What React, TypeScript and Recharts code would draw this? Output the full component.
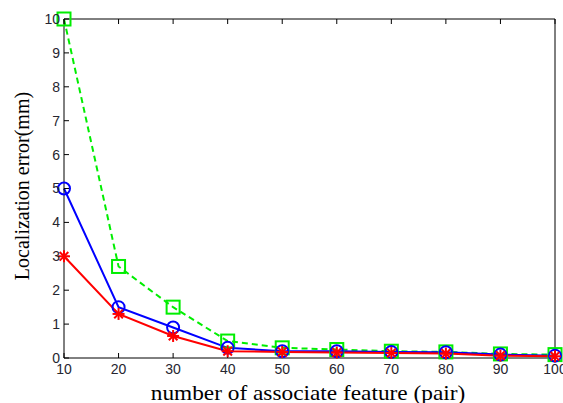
import { LineChart, Line, XAxis, YAxis } from 'recharts'

const features = [10, 20, 30, 40, 50, 60, 70, 80, 90, 100]
const greenErr = [10, 2.7, 1.5, 0.5, 0.3, 0.25, 0.2, 0.18, 0.12, 0.1]
const blueErr = [5, 1.5, 0.9, 0.3, 0.2, 0.2, 0.18, 0.17, 0.1, 0.07]
const redErr = [3, 1.3, 0.65, 0.2, 0.18, 0.16, 0.15, 0.13, 0.07, 0.05]
const xTicks = [10, 20, 30, 40, 50, 60, 70, 80, 90, 100]
const yTicks = [0, 1, 2, 3, 4, 5, 6, 7, 8, 9, 10]

const data = features.map((f, i) => ({ f, g: greenErr[i], b: blueErr[i], r: redErr[i] }))

const tickStyle = { fill: '#262630', fontSize: 14, fontFamily: 'Liberation Sans, Arial, sans-serif' }
const serif = '"Liberation Serif", "Times New Roman", serif'
const blank = () => ''

function SquareDot({ cx, cy }: any) {
  if (cx == null || cy == null) return null
  return <rect x={cx - 6.5} y={cy - 6.5} width={13} height={13} fill="none" stroke="#00ee00" strokeWidth={2} />
}

function CircleDot({ cx, cy }: any) {
  if (cx == null || cy == null) return null
  return <circle cx={cx} cy={cy} r={6} fill="none" stroke="#0000ff" strokeWidth={2} />
}

function StarDot({ cx, cy }: any) {
  if (cx == null || cy == null) return null
  const s = 6
  const d = s * 0.72
  return (
    <g stroke="#ff0000" strokeWidth={2}>
      <line x1={cx - s} y1={cy} x2={cx + s} y2={cy} />
      <line x1={cx} y1={cy - s} x2={cx} y2={cy + s} />
      <line x1={cx - d} y1={cy - d} x2={cx + d} y2={cy + d} />
      <line x1={cx - d} y1={cy + d} x2={cx + d} y2={cy - d} />
    </g>
  )
}

export default function App() {
  return (
    <div style={{ position: 'absolute', left: 0, top: 0, width: 563, height: 403, background: '#fff', overflow: 'hidden' }}>
      <LineChart width={563} height={403} data={data} margin={{ top: 18, right: 7, left: 24, bottom: 15 }}>
        <XAxis xAxisId="b" dataKey="f" type="number" domain={[10, 100]} ticks={xTicks} height={30}
          axisLine={{ stroke: '#000' }} tickLine={{ stroke: '#000' }} tickSize={-5} tickMargin={11}
          tick={tickStyle} interval={0} />
        <XAxis xAxisId="t" orientation="top" dataKey="f" type="number" domain={[10, 100]} ticks={xTicks} height={1}
          axisLine={{ stroke: '#000' }} tickLine={{ stroke: '#000' }} tickSize={-5} tickFormatter={blank} />
        <YAxis yAxisId="l" type="number" domain={[0, 10]} ticks={yTicks} width={40}
          axisLine={{ stroke: '#000' }} tickLine={{ stroke: '#000' }} tickSize={-5} tickMargin={9}
          tick={tickStyle} interval={0} />
        <YAxis yAxisId="r" orientation="right" type="number" domain={[0, 10]} ticks={yTicks} width={1}
          axisLine={{ stroke: '#000' }} tickLine={{ stroke: '#000' }} tickSize={-5} tickFormatter={blank} />
        <Line xAxisId="b" yAxisId="l" dataKey="g" stroke="#00ee00" strokeWidth={2} strokeDasharray="6 4"
          dot={<SquareDot />} activeDot={false} isAnimationActive={false} />
        <Line xAxisId="b" yAxisId="l" dataKey="b" stroke="#0000ff" strokeWidth={2}
          dot={<CircleDot />} activeDot={false} isAnimationActive={false} />
        <Line xAxisId="b" yAxisId="l" dataKey="r" stroke="#ff0000" strokeWidth={2}
          dot={<StarDot />} activeDot={false} isAnimationActive={false} />
      </LineChart>
      <div style={{ position: 'absolute', left: 308, top: 393, transform: 'translate(-50%, -50%) scaleX(1.11)', whiteSpace: 'nowrap',
        fontFamily: serif, fontSize: 21, color: '#000', lineHeight: 1 }}>
        number of associate feature (pair)
      </div>
      <div style={{ position: 'absolute', left: 22, top: 186, transform: 'translate(-50%, -50%) rotate(-90deg)', whiteSpace: 'nowrap',
        fontFamily: serif, fontSize: 20, color: '#000', lineHeight: 1 }}>
        Localization error(mm)
      </div>
    </div>
  )
}
